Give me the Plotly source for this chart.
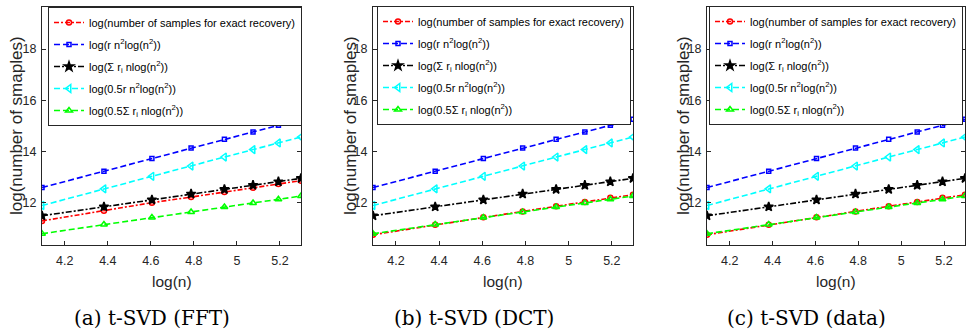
import plotly.graph_objects as go

# log(n) for the tested sizes
log_n = [4.094, 4.382, 4.605, 4.787, 4.942, 5.075, 5.193, 5.298]

# bounds shared by all three panels
rn2 = [12.60, 13.24, 13.73, 14.14, 14.48, 14.77, 15.03, 15.26]
sum_r = [11.50, 11.85, 12.12, 12.35, 12.53, 12.69, 12.83, 12.96]
half_rn2 = [11.90, 12.55, 13.04, 13.44, 13.79, 14.08, 14.34, 14.57]
half_sum_r = [10.80, 11.16, 11.43, 11.65, 11.84, 12.00, 12.14, 12.27]

# measured samples for exact recovery
exact_fft = [11.30, 11.70, 12.01, 12.23, 12.43, 12.59, 12.74, 12.87]
exact_dct = [10.76, 11.15, 11.44, 11.67, 11.87, 12.04, 12.20, 12.32]
exact_data = [10.76, 11.15, 11.44, 11.67, 11.87, 12.04, 12.20, 12.32]

captions = ["(a) t-SVD (FFT)", "(b) t-SVD (DCT)", "(c) t-SVD (data)"]
names = [
    "log(number of samples for exact recovery)",
    "log(r n<sup>2</sup>log(n<sup>2</sup>))",
    "log(Σ r<sub>i</sub> nlog(n<sup>2</sup>))",
    "log(0.5r n<sup>2</sup>log(n<sup>2</sup>))",
    "log(0.5Σ r<sub>i</sub> nlog(n<sup>2</sup>))",
]

W, H = 977, 334
AX_LEFT = [42, 373, 707]
AX_RIGHT = [301, 633, 965]
AX_TOP, AX_BOTTOM = 7, 245
LEGEND_POS = [(48, 7), (377, 6), (709, 6)]
YTITLE_X = [17, 351, 684]
CAPTION_X = [152, 474, 806]

SANS = "Liberation Sans, Arial, sans-serif"
AXIS_COLOR = "#262626"

STYLES = [
    {"color": "#ff0000", "dash": "5px,2px,2px,2px", "symbol": "circle-open", "size": 5},
    {"color": "#0000ff", "dash": "6px,3px", "symbol": "square-open", "size": 4},
    {"color": "#000000", "dash": "6px,2px,2px,2px", "symbol": "star", "size": 7},
    {"color": "#00ffff", "dash": "6px,3px", "symbol": "triangle-left-open", "size": 7},
    {"color": "#00ff00", "dash": "6px,3px", "symbol": "triangle-up-open", "size": 6},
]


def px_x(p):
    return p / W


def px_y(p):
    return 1 - p / H


fig = go.Figure()
layout = {}
annotations = []

for idx, exact in enumerate([exact_fft, exact_dct, exact_data]):
    suffix = "" if idx == 0 else str(idx + 1)
    legend_id = "legend" + suffix
    series = [exact, rn2, sum_r, half_rn2, half_sum_r]
    for k, (values, style) in enumerate(zip(series, STYLES)):
        fig.add_trace(
            go.Scatter(
                x=log_n,
                y=values,
                mode="lines+markers",
                name=names[k],
                legendgroup=f"g{idx}_{k}",
                legend=legend_id,
                xaxis="x" + suffix,
                yaxis="y" + suffix,
                line={"color": style["color"], "width": 1.6, "dash": style["dash"]},
                marker={
                    "symbol": style["symbol"],
                    "size": style["size"],
                    "color": style["color"],
                    "line": {"color": style["color"], "width": 1.5},
                },
            )
        )

    axis_common = {
        "showline": True,
        "mirror": "ticks",
        "linecolor": AXIS_COLOR,
        "linewidth": 1,
        "ticks": "inside",
        "ticklen": 4,
        "tickcolor": AXIS_COLOR,
        "showgrid": False,
        "zeroline": False,
        "tickfont": {"family": SANS, "size": 12.5, "color": AXIS_COLOR},
    }
    layout["xaxis" + suffix] = {
        **axis_common,
        "domain": [px_x(AX_LEFT[idx]), px_x(AX_RIGHT[idx])],
        "range": [4.094, 5.298],
        "tickvals": [4.2, 4.4, 4.6, 4.8, 5, 5.2],
        "ticktext": ["4.2", "4.4", "4.6", "4.8", "5", "5.2"],
        "ticklabelstandoff": 4,
        "anchor": "y" + suffix,
    }
    layout["yaxis" + suffix] = {
        **axis_common,
        "domain": [px_y(AX_BOTTOM), px_y(AX_TOP)],
        "range": [10.36, 19.64],
        "tickvals": [12, 14, 16, 18],
        "ticklabelstandoff": 2,
        "anchor": "x" + suffix,
    }
    lx, ly = LEGEND_POS[idx]
    layout[legend_id] = {
        "x": px_x(lx),
        "y": px_y(ly),
        "xanchor": "left",
        "yanchor": "top",
        "bgcolor": "white",
        "bordercolor": AXIS_COLOR,
        "borderwidth": 1,
        "tracegroupgap": 3,
        "itemwidth": 30,
        "font": {"family": SANS, "size": 11, "color": "#000000"},
    }

    center = (AX_LEFT[idx] + AX_RIGHT[idx]) / 2
    annotations.append(
        {
            "text": "log(n)",
            "x": px_x(center),
            "y": px_y(281),
            "xref": "paper",
            "yref": "paper",
            "showarrow": False,
            "xanchor": "center",
            "yanchor": "middle",
            "font": {"family": SANS, "size": 15.5, "color": AXIS_COLOR},
        }
    )
    annotations.append(
        {
            "text": "log(number of smaples)",
            "x": px_x(YTITLE_X[idx]),
            "y": px_y((AX_TOP + AX_BOTTOM) / 2),
            "xref": "paper",
            "yref": "paper",
            "showarrow": False,
            "textangle": -90,
            "xanchor": "center",
            "yanchor": "middle",
            "font": {"family": SANS, "size": 17, "color": AXIS_COLOR},
        }
    )
    annotations.append(
        {
            "text": captions[idx],
            "x": px_x(CAPTION_X[idx]),
            "y": px_y(318),
            "xref": "paper",
            "yref": "paper",
            "showarrow": False,
            "xanchor": "center",
            "yanchor": "middle",
            "font": {"family": "DejaVu Serif, serif", "size": 20, "color": "#000000"},
        }
    )

fig.update_layout(
    width=W,
    height=H,
    autosize=False,
    margin={"l": 0, "r": 0, "t": 0, "b": 0},
    paper_bgcolor="white",
    plot_bgcolor="white",
    showlegend=True,
    annotations=annotations,
    **layout,
)

# drop the page's default body margin so the figure fills the window exactly
fig.write_html(
    "out.html",
    config={"displayModeBar": False},
    post_script="document.body.style.margin = '0';",
)
